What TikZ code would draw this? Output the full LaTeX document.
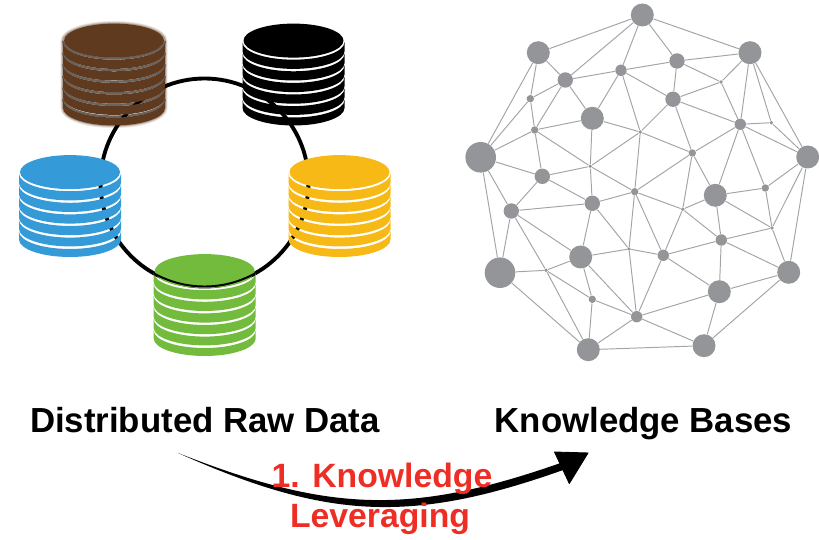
\documentclass[tikz,border=0pt]{standalone}
\usepackage{fontspec}
\setmainfont{Liberation Sans}

\definecolor{kbgray}{HTML}{939598}
\definecolor{linkgray}{HTML}{A3A4A6}
\definecolor{dbbrown}{HTML}{5F3A1E}
\definecolor{dbstripe}{HTML}{6A6460}
\definecolor{dbblue}{HTML}{359BD8}
\definecolor{dbyellow}{HTML}{F6B916}
\definecolor{dbgreen}{HTML}{72BB3C}
\definecolor{leverred}{HTML}{EE2E24}

\tikzset{
    kb/.style={
        circle,
        fill=kbgray,
        inner sep=0pt
    },
    kbdot/.style={kb,minimum size=.076cm},
    kbtiny/.style={kb,minimum size=.148cm},
    kbsmall/.style={kb,minimum size=.228cm},
    kbmid/.style={kb,minimum size=.308cm},
    kblarge/.style={kb,minimum size=.46cm},
    kbhuge/.style={kb,minimum size=.612cm},
    link/.style={
        draw=linkgray,
        line width=.55pt
    },
    ring/.style={
        draw=black,
        line width=2.2pt
    },
    caption/.style={
        font=\bfseries\fontsize{19.8}{22}\selectfont,
        inner sep=0pt,
        anchor=base
    },
    redcaption/.style={
        caption,
        font=\bfseries\fontsize{19.2}{22}\selectfont,
        text=leverred
    }
}

% one stack of slices, the gaps between them stay open
\newcommand{\dbstack}[3]{
    \fill[#3] (#1,#2-.4) ellipse[x radius=50,y radius=17];
    \foreach \d/\e in {1.2/10.4,12.8/22,24.4/33.6,36/45.2,47.6/56.4,59/67}
        \fill[#3] (#1-51,#2+\d) arc[start angle=180,end angle=0,x radius=51,y radius=17.5]
            -- (#1+51,#2+\e) arc[start angle=0,end angle=180,x radius=51,y radius=17.5]
            -- cycle;
}

\begin{document}
\begin{tikzpicture}[x=.02cm,y=-.02cm]
    \useasboundingbox (0,0) rectangle (819,540);

    % weicher Rand und graue Streifen des braunen Stapels
    \foreach \w/\o in {3/.1,2/.18,1/.3}
        \draw[dbbrown,opacity=\o,line width=\w pt] (63,41)
            arc[start angle=180,end angle=360,x radius=51,y radius=17.5]
            -- (165,108) arc[start angle=0,end angle=180,x radius=51,y radius=17.5] -- cycle;
    \foreach \d in {0,11.6,23.2,34.8,46.4,58}
        \draw[dbstripe,line width=1.3pt] (63,41+\d)
            arc[start angle=180,end angle=0,x radius=51,y radius=17.5];

    % Ring hinter den Stapeln
    \coordinate (ringc) at (204.5,182.5);
    \draw[ring] (ringc) circle[radius=104];

    % Stapel
    \dbstack{114}{41}{dbbrown}
    \dbstack{293.5}{41}{black}
    \dbstack{70}{172.5}{dbblue}
    \dbstack{339.5}{172.5}{dbyellow}
    \dbstack{204.7}{271.5}{dbgreen}
    \draw[ring,line width=1.1pt] ([shift={(61:104)}]ringc) arc[start angle=61,end angle=119,radius=104];

    % Knoten, obere Haelfte
    \path
        node[kblarge] at (642.3, 15.0) (n1)  {}
        node[kblarge] at (538.3, 52.7) (n2)  {}
        node[kblarge] at (750.0, 52.7) (n3)  {}
        node[kbmid]   at (677.0, 61.0) (n4)  {}
        node[kbmid]   at (565.3, 80.0) (n5)  {}
        node[kbsmall] at (621.0, 70.3) (n6)  {}
        node[kbdot]   at (721.0, 82.0) (n7)  {}
        node[kbtiny]  at (530.3, 98.7) (n8)  {}
        node[kbmid]   at (673.0, 99.3) (n9)  {}
        node[kblarge] at (592.3,118.3) (n10) {}
        node[kbtiny]  at (534.7,130.0) (n11) {}
        node[kbdot]   at (640.3,132.0) (n12) {}
        node[kbsmall] at (740.3,124.3) (n13) {}
        node[kbdot]   at (771.3,122.7) (n14) {}
        node[kbhuge]  at (480.7,157.3) (n15) {}
        node[kbtiny]  at (692.3,153.0) (n16) {}
        node[kblarge] at (807.7,157.0) (n17) {}
        node[kbmid]   at (542.3,176.3) (n18) {}
        node[kbdot]   at (590.3,166.3) (n19) {};

    % Knoten, untere Haelfte
    \path
        node[kbtiny]  at (634.7,191.7) (n20) {}
        node[kblarge] at (715.3,195.3) (n21) {}
        node[kbtiny]  at (765.3,188.0) (n22) {}
        node[kbmid]   at (592.3,203.3) (n23) {}
        node[kbmid]   at (511.3,211.0) (n24) {}
        node[kbdot]   at (682.7,209.3) (n25) {}
        node[kbdot]   at (772.0,228.0) (n26) {}
        node[kbsmall] at (721.3,240.0) (n27) {}
        node[kblarge] at (580.7,257.0) (n28) {}
        node[kbdot]   at (629.0,249.0) (n29) {}
        node[kbsmall] at (663.3,255.3) (n30) {}
        node[kbhuge]  at (500.0,272.7) (n31) {}
        node[kbdot]   at (546.0,270.3) (n32) {}
        node[kblarge] at (788.7,272.3) (n33) {}
        node[kblarge] at (719.3,291.7) (n34) {}
        node[kbtiny]  at (592.3,299.3) (n35) {}
        node[kbsmall] at (636.7,316.7) (n36) {}
        node[kblarge] at (588.3,349.7) (n37) {}
        node[kblarge] at (704.0,345.7) (n38) {};

    % Kanten
    \path[link]
        (n1)  edge (n2) edge (n3) edge (n4) edge (n5) edge (n6)
        (n2)  edge (n5) edge (n8) edge (n15)
        (n3)  edge (n4) edge (n7) edge (n13) edge (n14) edge (n17)
        (n4)  edge (n6) edge (n7) edge (n9)
        (n5)  edge (n6) edge (n8) edge (n10) edge (n11)
        (n6)  edge (n9) edge (n10) edge (n12)
        (n7)  edge (n9) edge (n13)
        (n8)  edge (n11) edge (n15)
        (n9)  edge (n12) edge (n13) edge (n16)
        (n10) edge (n11) edge (n12) edge (n19)
        (n11) edge (n15) edge (n18) edge (n19)
        (n12) edge (n16) edge (n19) edge (n20)
        (n13) edge (n14) edge (n16) edge (n17) edge (n21) edge (n22)
        (n14) edge (n17)
        (n15) edge (n18) edge (n24) edge (n31)
        (n16) edge (n20) edge (n21) edge (n25)
        (n17) edge (n22) edge (n26) edge (n33)
        (n18) edge (n19) edge (n23) edge (n24)
        (n19) edge (n20) edge (n23)
        (n20) edge (n23) edge (n25) edge (n29) edge (n30)
        (n21) edge (n22) edge (n25) edge (n26) edge (n27)
        (n22) edge (n26)
        (n23) edge (n24) edge (n28) edge (n29)
        (n24) edge (n28) edge (n31) edge (n32)
        (n25) edge (n27) edge (n30)
        (n26) edge (n27) edge (n33)
        (n27) edge (n30) edge (n33) edge (n34)
        (n28) edge (n29) edge (n32) edge (n35) edge (n36)
        (n29) edge (n30) edge (n36)
        (n30) edge (n34) edge (n36)
        (n31) edge (n32) edge (n37)
        (n32) edge (n35) edge (n37)
        (n33) edge (n34) edge (n38)
        (n34) edge (n36) edge (n38)
        (n35) edge (n36) edge (n37)
        (n36) edge (n37) edge (n38)
        (n37) edge (n38);

    % Beschriftungen
    \path
        node[caption] at (205,432.5) (rawlabel) {Distributed Raw Data}
        node[caption] at (643.5,432.5) (kblabel) {Knowledge Bases};

    % Pinselpfeil
    \coordinate (sweepstart) at (178,453);
    \coordinate (sweeptop) at (562,462.5);
    \coordinate (sweepbot) at (566,469);
    \fill[black] (sweepstart) .. controls (328,512) and (410,516) .. (sweeptop)
        -- (sweepbot) .. controls (412,524) and (328,520) .. (sweepstart) -- cycle;
    \fill[black,draw=black,line width=.5pt,line join=round]
        (554.5,452) -- (588,453) -- (569.3,483.5) -- cycle;

    \path
        node[redcaption] at (382,487.5) (leverlabel) {1. Knowledge}
        node[redcaption] at (380,528) (leverlabelb) {Leveraging};
\end{tikzpicture}
\end{document}
